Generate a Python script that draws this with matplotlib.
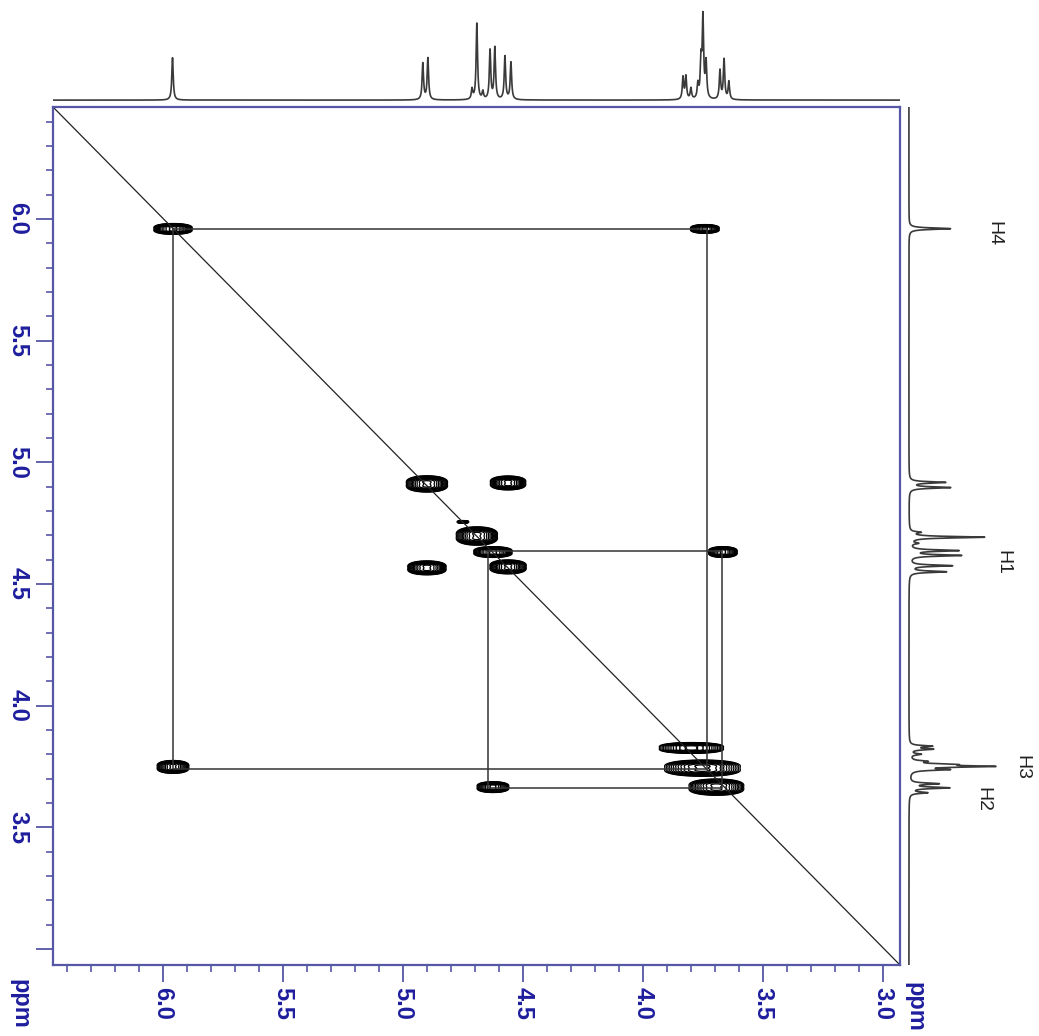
import numpy as np
import matplotlib
matplotlib.use("Agg")
import matplotlib.pyplot as plt
from matplotlib.ticker import MultipleLocator, FixedLocator, FuncFormatter

plt.rcParams['font.family'] = ['Liberation Sans', 'DejaVu Sans']

# 1H spectrum lines: shift (ppm) and relative intensity
shifts = [5.960, 4.917, 4.896, 4.712, 4.692, 4.667, 4.637, 4.617, 4.575, 4.550,
          3.833, 3.821, 3.800, 3.771, 3.758, 3.750, 3.737, 3.679, 3.662, 3.642]
intensity = [50, 43, 49, 12, 90, 9, 58, 61, 51, 44,
             26, 27, 13, 17, 42, 94, 42, 34, 47, 21]

# COSY contour peaks: F2 / F1 centre (ppm) and full extent of the blob (ppm)
peak_f2 = [5.958, 4.900, 4.692, 4.625, 4.562, 3.798, 3.752, 3.694,
           4.562, 4.900, 3.742, 5.958, 3.667, 4.625, 4.750]
peak_f1 = [5.959, 4.911, 4.697, 4.631, 4.570, 3.826, 3.743, 3.665,
           4.915, 4.566, 5.959, 3.748, 4.631, 3.665, 4.755]
peak_w2 = [0.167, 0.179, 0.179, 0.167, 0.158, 0.279, 0.329, 0.238,
           0.154, 0.167, 0.125, 0.138, 0.125, 0.138, 0.050]
peak_w1 = [0.041, 0.062, 0.070, 0.041, 0.053, 0.041, 0.062, 0.062,
           0.053, 0.053, 0.033, 0.049, 0.041, 0.041, 0.010]

# coupling walks drawn as rectangles: (F2 a, F2 b), (F1 a, F1 b)
walk_f2 = [(5.96, 3.735), (4.645, 3.67)]
walk_f1 = [(5.96, 3.74), (4.635, 3.66)]

labels = ['H4', 'H1', 'H3', 'H2']
label_ppm = [5.94, 4.59, 3.744, 3.616]

x_lim = (6.458, 2.929)
y_lim = (2.934, 6.460)
axcol = '#5656a6'
lblcol = '#1e1e9e'

W, H = 1039, 1036
fig = plt.figure(figsize=(W / 100, H / 100), dpi=100)

ax = fig.add_axes([53 / W, 1 - 965 / H, 847 / W, 858 / H])
ax_top = fig.add_axes([53 / W, 1 - 104 / H, 847 / W, 104 / H])
ax_right = fig.add_axes([905 / W, 1 - 965 / H, 134 / W, 858 / H])

# 2D contours, each cross peak built as a small multiplet
gx = np.linspace(2.90, 6.50, 1400)
gy = np.linspace(2.90, 6.50, 2000)
X, Y = np.meshgrid(gx, gy)
Z = np.zeros_like(X)
for f2, f1, w2, w1 in zip(peak_f2, peak_f1, peak_w2, peak_w1):
    sx = 0.36 * w2 / 2.45
    sy = 0.34 * w1 / 2.45
    for ox in (-0.12, 0.0, 0.12):
        for oy in (-0.16, 0.16):
            Z += np.exp(-0.5 * ((X - f2 - ox * w2) / sx) ** 2
                        - 0.5 * ((Y - f1 - oy * w1) / sy) ** 2)
levels = np.geomspace(0.06, 4.5, 14)
ax.contour(X, Y, Z, levels=levels, colors='black', linewidths=0.9)

ax.plot([0, 1], [1, 0], transform=ax.transAxes, color='#222222', lw=0.9)
for (a, b), (c, d) in zip(walk_f2, walk_f1):
    ax.plot([a, b, b, a, a], [c, c, d, d, c], color='#333333', lw=1.1)

ax.set_xlim(*x_lim)
ax.set_ylim(*y_lim)

ax.xaxis.set_major_locator(MultipleLocator(0.5))
ax.xaxis.set_minor_locator(MultipleLocator(0.1))
ax.yaxis.set_major_locator(FixedLocator([3.0, 3.5, 4.0, 4.5, 5.0, 5.5, 6.0]))
ax.yaxis.set_minor_locator(MultipleLocator(0.1))
ax.xaxis.set_major_formatter(FuncFormatter(lambda v, _: f'{v:.1f}'))
ax.yaxis.set_major_formatter(FuncFormatter(lambda v, _: '' if abs(v - 3.0) < 1e-6 else f'{v:.1f}'))
ax.tick_params(which='major', length=12, width=1.3, color=axcol, labelcolor=lblcol,
               labelsize=17, direction='out')
ax.tick_params(which='minor', length=5, width=1.2, color=axcol, direction='out')
ax.tick_params(axis='x', labelrotation=-90, pad=4)
ax.tick_params(axis='y', labelrotation=-90, pad=5)
for lab in ax.get_xticklabels() + ax.get_yticklabels():
    lab.set_fontweight('bold')
for lab in ax.get_yticklabels():
    lab.set_va('center')
for s in ax.spines.values():
    s.set_color(axcol)
    s.set_linewidth(1.6)

# 1D projections
ppm = np.linspace(2.90, 6.50, 8000)
hw = 0.0035
spec = np.zeros_like(ppm)
for s, i in zip(shifts, intensity):
    spec += i * hw ** 2 / ((ppm - s) ** 2 + hw ** 2)

ax_top.plot(ppm, spec, color='#3a3a3a', lw=1.2)
ax_top.set_xlim(*x_lim)
ax_top.set_ylim(-4.6, 118)
ax_top.axis('off')

ax_right.plot(spec, ppm, color='#3a3a3a', lw=1.2)
ax_right.set_ylim(*y_lim)
ax_right.set_xlim(-4.7, 156)
ax_right.axis('off')

label_dx = [102, 113, 135, 89]
for t, p, dx in zip(labels, label_ppm, label_dx):
    ax_right.text(dx, p, t, rotation=-90, ha='center', va='center',
                  fontsize=14, color='#222222', clip_on=False)

fig.text(20 / W, 1 - 1004 / H, 'ppm', rotation=-90, ha='center', va='center',
         fontsize=17, fontweight='bold', color=lblcol)
fig.text(915 / W, 1 - 1007 / H, 'ppm', rotation=-90, ha='center', va='center',
         fontsize=17, fontweight='bold', color=lblcol)

fig.savefig('out.png', dpi=100)
